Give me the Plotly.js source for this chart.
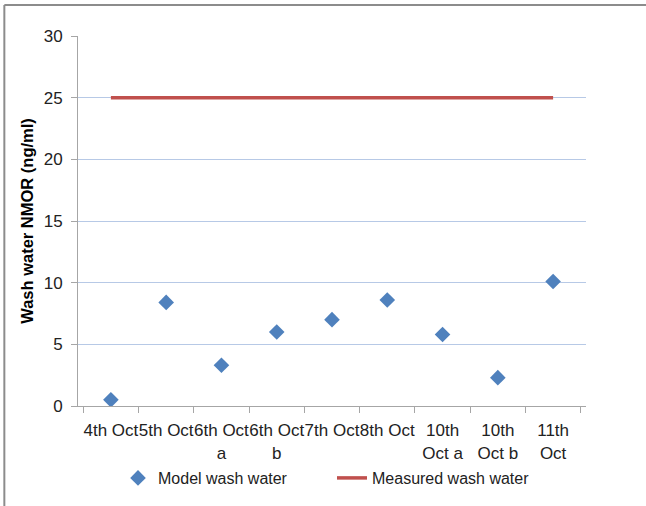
<!DOCTYPE html>
<html>
<head>
<meta charset="utf-8">
<script src="https://cdn.plot.ly/plotly-3.0.1.min.js"></script>
<style>
  html, body { margin: 0; padding: 0; background: #fff; }
  #chart { width: 646px; height: 506px; }
</style>
</head>
<body>
<div id="chart"></div>
<script>
// Sampling dates (wrapped the way they are shown under the axis)
const categories = [
  "4th Oct", "5th Oct", "6th Oct<br>a", "6th Oct<br>b", "7th Oct",
  "8th Oct", "10th<br>Oct a", "10th<br>Oct b", "11th<br>Oct"
];

// Model-predicted NMOR in wash water (ng/ml)
const modelWashWater = [0.5, 8.4, 3.3, 6.0, 7.0, 8.6, 5.8, 2.3, 10.1];

// Measured NMOR in wash water (ng/ml)
const measuredWashWater = [25, 25, 25, 25, 25, 25, 25, 25, 25];

const yTicks = [0, 5, 10, 15, 20, 25, 30];

const font = "Liberation Sans, Arial, sans-serif";

const traces = [
  {
    type: "scatter",
    mode: "markers",
    name: "Model wash water",
    x: categories,
    y: modelWashWater,
    marker: { symbol: "diamond", size: 12, color: "#4F81BD" },
    hoverinfo: "x+y"
  },
  {
    type: "scatter",
    mode: "lines",
    name: "Measured wash water",
    x: categories,
    y: measuredWashWater,
    line: { color: "#C0504D", width: 3.5 },
    hoverinfo: "x+y"
  }
];

const layout = {
  width: 646,
  height: 506,
  margin: { l: 78, r: 60, t: 36, b: 100, autoexpand: false },
  paper_bgcolor: "#ffffff",
  plot_bgcolor: "#ffffff",
  font: { family: font, size: 16, color: "#222" },
  showlegend: true,
  xaxis: {
    type: "category",
    automargin: false,
    tickson: "boundaries",
    ticks: "outside",
    ticklen: 6,
    tickcolor: "#A6A6A6",
    showline: true,
    linecolor: "#A6A6A6",
    linewidth: 1,
    showgrid: false,
    zeroline: false,
    tickangle: 0,
    ticklabelstandoff: 9,
    tickfont: { family: font, size: 17, color: "#222" },
    fixedrange: true
  },
  yaxis: {
    range: [0, 30],
    automargin: false,
    tickvals: yTicks,
    ticktext: yTicks.map(String),
    ticks: "outside",
    ticklen: 6,
    tickcolor: "#A6A6A6",
    showline: true,
    linecolor: "#A6A6A6",
    linewidth: 1,
    showgrid: true,
    gridcolor: "#B7C9E6",
    gridwidth: 1,
    zeroline: false,
    ticklabelstandoff: 5,
    tickfont: { family: font, size: 17, color: "#222" },
    title: {
      text: "<b>Wash water NMOR (ng/ml)</b>",
      font: { family: font, size: 16.5, color: "#000" },
      standoff: 5
    },
    fixedrange: true
  },
  legend: {
    orientation: "h",
    xref: "container",
    yref: "container",
    x: 118 / 646,
    xanchor: "left",
    y: 1 - 478 / 506,
    yanchor: "middle",
    font: { family: font, size: 16, color: "#222" },
    entrywidth: 169,
    entrywidthmode: "pixels",
    borderwidth: 0,
    bgcolor: "rgba(0,0,0,0)"
  },
  shapes: [
    // chart frame: top and left edges
    { type: "line", xref: "paper", yref: "paper", x0: -0.145, x1: 1.12, y0: 1.084, y1: 1.084,
      line: { color: "#8C8C8C", width: 2 } },
    { type: "line", xref: "paper", yref: "paper", x0: -0.145, x1: -0.145, y0: 1.084, y1: -0.3,
      line: { color: "#8C8C8C", width: 2 } }
  ]
};

Plotly.newPlot("chart", traces, layout, { displayModeBar: false, staticPlot: true });
</script>
</body>
</html>
